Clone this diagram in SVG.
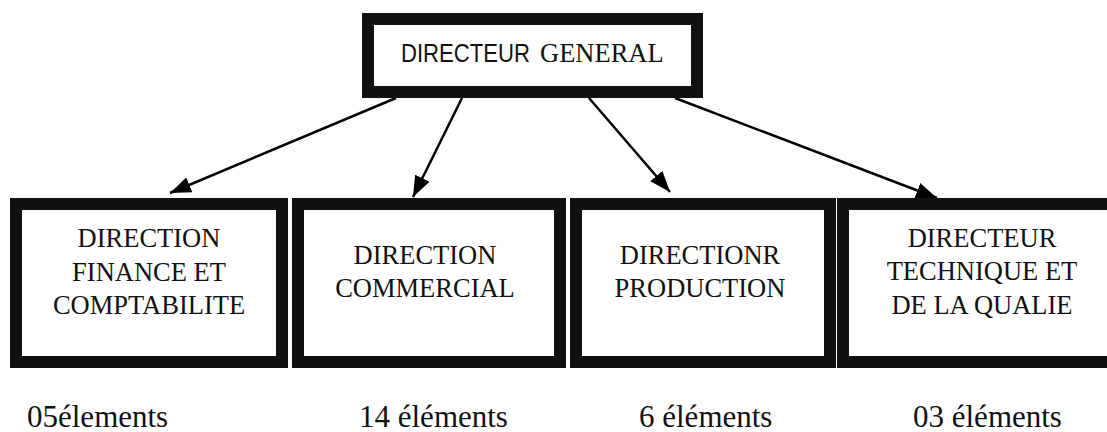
<svg xmlns="http://www.w3.org/2000/svg" width="1107" height="432" viewBox="0 0 1107 432">
  <style>
    .box { fill: #ffffff; stroke: #111111; stroke-width: 12; }
    .t { font-family: "Liberation Serif", "Times New Roman", serif; font-size: 26.5px; fill: #111111; text-anchor: middle; }
    .lbl { font-family: "Liberation Serif", "Times New Roman", serif; font-size: 31px; fill: #111111; }
    .conn { stroke: #000000; stroke-width: 2.5; fill: none; marker-end: url(#arr); }
  </style>
  <defs>
    <marker id="arr" markerUnits="userSpaceOnUse" markerWidth="23" markerHeight="17" refX="21" refY="8" orient="auto">
      <path d="M0,0 L21,8 L0,16 z" fill="#000000"/>
    </marker>
  </defs>
  <rect width="1107" height="432" fill="#ffffff"/>

  <g id="connectors">
    <line class="conn" x1="396" y1="98" x2="170" y2="193"/>
    <line class="conn" x1="462" y1="98" x2="413" y2="197"/>
    <line class="conn" x1="589" y1="98" x2="670" y2="192"/>
    <line class="conn" x1="675" y1="98" x2="937" y2="198"/>
  </g>

  <g id="directeur-general">
    <rect class="box" x="368" y="19" width="329" height="73"/>
    <text x="401" y="62" style="font-family:'Liberation Sans', Arial, sans-serif; font-size:25px; fill:#111111" textLength="129" lengthAdjust="spacingAndGlyphs">DIRECTEUR</text>
    <text x="540" y="62" style="font-family:'Liberation Serif', 'Times New Roman', serif; font-size:26.5px; fill:#111111">GENERAL</text>
  </g>

  <g id="direction-finance">
    <rect class="box" x="16" y="204" width="266" height="158"/>
    <text class="t" x="149" y="247">DIRECTION</text>
    <text class="t" x="149" y="281">FINANCE ET</text>
    <text class="t" x="149" y="314">COMPTABILITE</text>
  </g>

  <g id="direction-commercial">
    <rect class="box" x="298" y="204" width="262" height="158"/>
    <text class="t" x="425" y="264">DIRECTION</text>
    <text class="t" x="425" y="297">COMMERCIAL</text>
  </g>

  <g id="direction-production">
    <rect class="box" x="576" y="204" width="254" height="158"/>
    <text class="t" x="700" y="264">DIRECTIONR</text>
    <text class="t" x="700" y="297">PRODUCTION</text>
  </g>

  <g id="directeur-technique">
    <rect class="box" x="843" y="204" width="280" height="158"/>
    <text class="t" x="982" y="247">DIRECTEUR</text>
    <text class="t" x="982" y="280">TECHNIQUE ET</text>
    <text class="t" x="982" y="314">DE LA QUALIE</text>
  </g>

  <g id="labels">
    <text class="lbl" x="27" y="427">05élements</text>
    <text class="lbl" x="359" y="427">14 éléments</text>
    <text class="lbl" x="639" y="427">6 éléments</text>
    <text class="lbl" x="913" y="427">03 éléments</text>
  </g>
</svg>
